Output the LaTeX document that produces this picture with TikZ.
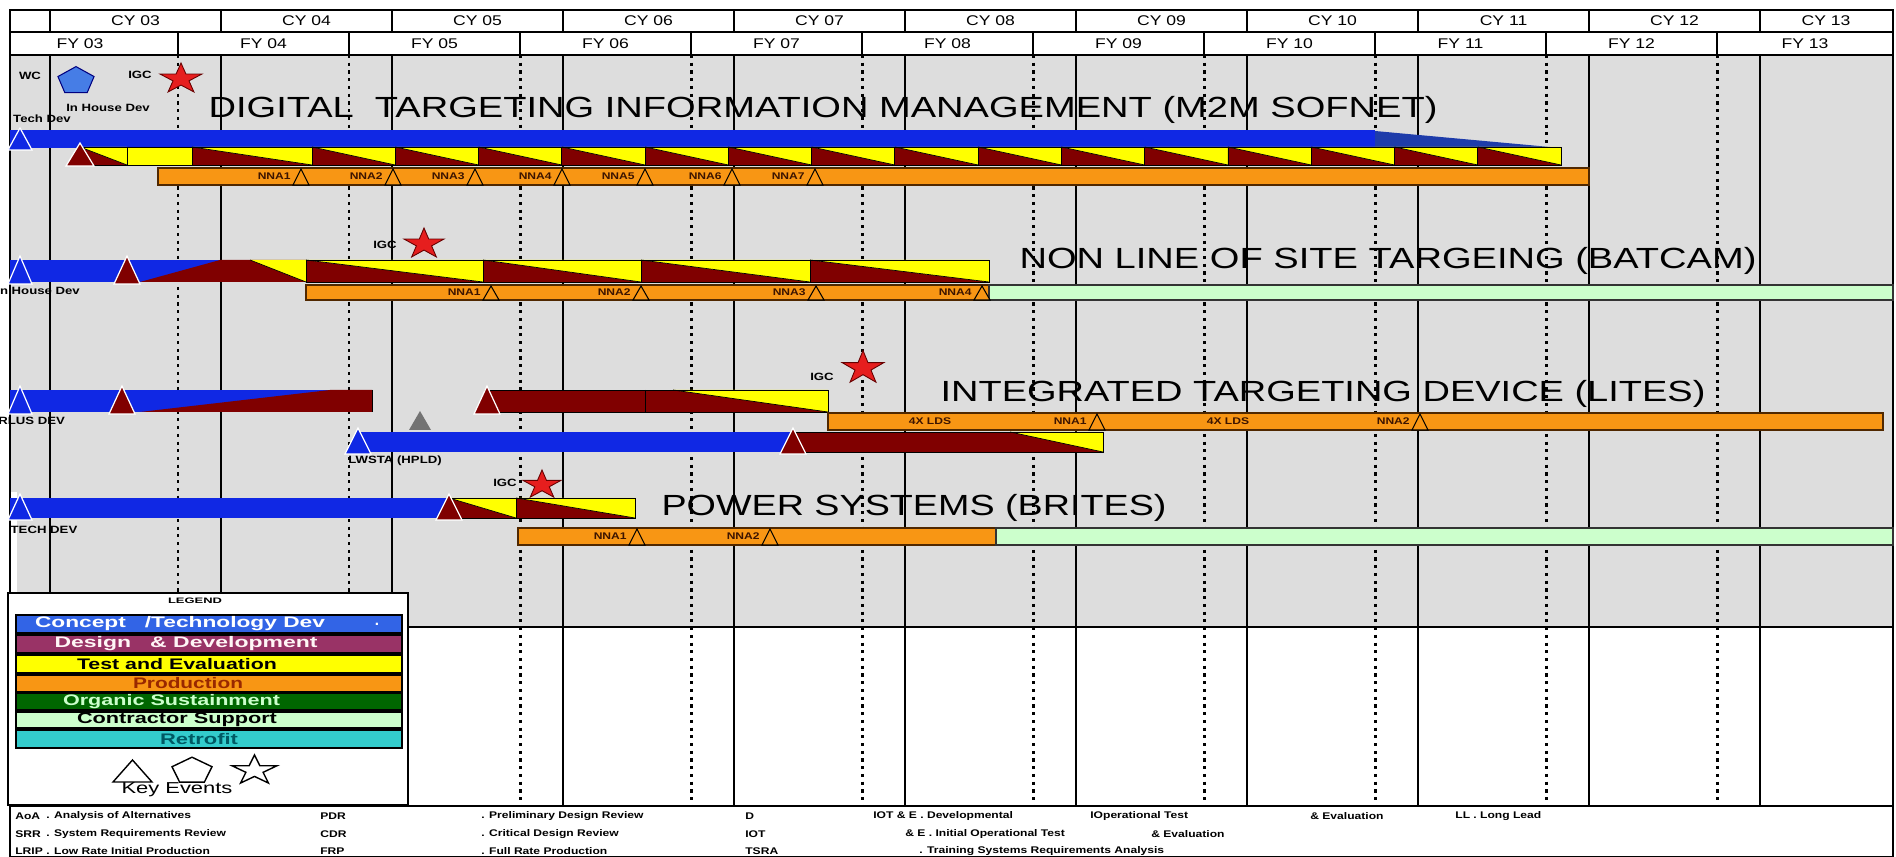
\documentclass[tikz,border=0pt]{standalone}
\usepackage{fontspec}
\setmainfont{Liberation Sans}
\usepackage{graphicx}
\definecolor{bggray}{RGB}{221,221,221}
\definecolor{bluec}{RGB}{16,40,228}
\definecolor{dbluec}{RGB}{30,60,170}
\definecolor{maroonc}{RGB}{128,0,0}
\definecolor{yellowc}{RGB}{255,255,0}
\definecolor{orangec}{RGB}{248,150,20}
\definecolor{obord}{RGB}{80,40,0}
\definecolor{obtext}{RGB}{60,20,0}
\definecolor{lgreenc}{RGB}{204,255,204}
\definecolor{starc}{RGB}{230,30,30}
\definecolor{pentc}{RGB}{70,125,230}
\definecolor{lgblue}{RGB}{50,100,230}
\definecolor{lgdesign}{RGB}{153,51,102}
\definecolor{lgorganic}{RGB}{0,102,0}
\definecolor{lgretro}{RGB}{51,204,204}
\definecolor{lgprodtext}{RGB}{153,40,0}
\definecolor{lgretrotext}{RGB}{0,90,100}
\newcommand\hsx[1]{\scalebox{1.25}[1]{#1}}
\newcommand\fitw[2]{\resizebox{#1}{\height}{#2}}
\newcommand\mtri[5]{\path[#5] ({#1-#4},{#3}) -- ({#1},{#2}) -- ({#1+#4},{#3}) -- cycle;}
\newcommand\wdg[4]{%
  \fill[maroonc] ({#1},{#3}) -- ({#1},{#4}) -- ({#2},{#4}) -- cycle;
  \fill[yellowc] ({#1},{#3}) -- ({#2},{#3}) -- ({#2},{#4}) -- cycle;
  \draw[barline] ({#1},{#3}) rectangle ({#2},{#4});
  \draw[diagline] ({#1},{#3}) -- ({#2},{#4});}
\newcommand\kstar[5]{\path[#5,shift={(#1,#2)},xscale=#3,yscale=#4] (-90:1) -- (-54:0.382) -- (-18:1) -- (18:0.382) -- (54:1) -- (90:0.382) -- (126:1) -- (162:0.382) -- (198:1) -- (234:0.382) -- cycle;}
\newcommand\kpent[5]{\path[#5,shift={(#1,#2)},xscale=#3,yscale=#4] (-90:1) -- (-18:1) -- (54:1) -- (126:1) -- (198:1) -- cycle;}
\newcommand\omark[5]{% x ytop ybot label name
  \mtri{#1}{#2+1}{#3}{8}{omile}
  \node[olbl] (#5) at ({#1-10},{(#2+#3)/2}) {\hsx{#4}};}
\tikzset{
 gridl/.style={line width=1.1pt, black},
 dotl/.style={line width=1.7pt, black, dash pattern=on 1.8pt off 2.6pt},
 hdrl/.style={line width=0.9pt, black},
 barline/.style={line width=0.5pt, black},
 diagline/.style={line width=0.4pt, black},
 msblue/.style={fill=bluec, draw=white, line width=0.7pt},
 msmar/.style={fill=maroonc, draw=white, line width=0.7pt},
 omile/.style={fill=orangec, draw=black, line width=0.6pt},
 obar/.style={fill=orangec, draw=obord, line width=0.8pt},
 gbar/.style={fill=lgreenc, draw=black!80, line width=0.8pt},
 lbl/.style={font=\bfseries\fontsize{6}{7}\selectfont, inner sep=0pt},
 olbl/.style={font=\bfseries\fontsize{5.5}{6}\selectfont, inner sep=0pt, text=obtext, anchor=east},
 ttl/.style={font=\fontsize{16.6}{18}\selectfont, inner sep=0pt},
 hdrt/.style={font=\fontsize{8}{9}\selectfont, inner sep=0pt},
 legt/.style={font=\bfseries\fontsize{8.7}{10}\selectfont, inner sep=0pt},
 foot/.style={font=\bfseries\fontsize{5.5}{6}\selectfont, inner sep=0pt, anchor=west},
 starred/.style={fill=starc, draw=black!60!red, line width=0.5pt},
 keyshape/.style={draw=black, fill=white, line width=0.8pt},
 legbar/.style={draw=black, line width=0.9pt},
}
\begin{document}
\begin{tikzpicture}[x=0.02cm,y=-0.02cm]
\useasboundingbox (0,0) rectangle (1896,857);
\fill[white] (0,0) rectangle (1896,857);
% body background
\fill[bggray] (10,55) rectangle (1893,627);
\draw[line width=0.6pt] (10,627) -- (1893,627);
\fill[white] (10,492) rectangle (17,592);
% grid lines
\foreach \k in {0,...,10}{\pgfmathsetmacro\xx{50+171*\k}\draw[gridl] (\xx,55) -- (\xx,806);}
\foreach \k in {1,...,10}{\pgfmathsetmacro\xx{50+171*\k-43}\draw[dotl] (\xx,55) -- (\xx,806);}
\draw[gridl] (10,55) -- (10,806);
\draw[gridl] (1893,55) -- (1893,806);
% header
\draw[hdrl] (10,10) rectangle (1893,55);
\draw[hdrl] (10,32) -- (1893,32);
\foreach \k in {0,...,10}{\pgfmathsetmacro\xx{50+171*\k}\draw[hdrl] (\xx,10) -- (\xx,32);}
\foreach \k in {1,...,10}{\pgfmathsetmacro\xx{50+171*\k-43}\draw[hdrl] (\xx,32) -- (\xx,55);}
\foreach \k/\t in {0/03,1/04,2/05,3/06,4/07,5/08,6/09,7/10,8/11,9/12}{\pgfmathsetmacro\xx{50+171*\k+85.5}\node[hdrt] (cy\t) at (\xx,21) {\hsx{CY \t}};}
\node[hdrt] (cy13) at (1826,21) {\hsx{CY 13}};
\node[hdrt] (fy03) at (80,44) {\hsx{FY 03}};
\foreach \k/\t in {1/04,2/05,3/06,4/07,5/08,6/09,7/10,8/11,9/12}{\pgfmathsetmacro\xx{50+171*\k-43+85.5}\node[hdrt] (fy\t) at (\xx,44) {\hsx{FY \t}};}
\node[hdrt] (fy13) at (1805,44) {\hsx{FY 13}};

% ===== Row 1 =====
\node[ttl] (t1) at (823,110) {\fitw{24.58cm}{DIGITAL\ \ TARGETING INFORMATION MANAGEMENT (M2M SOFNET)}};
\fill[bluec] (10,130) rectangle (1375,148);
\fill[dbluec] (1375,131) -- (1561,148) -- (1375,148) -- cycle;
\mtri{20}{128}{150}{12}{msblue}
\wdg{80}{127}{147}{165}
\fill[yellowc] (127,147) rectangle (192,165);
\draw[barline] (127,147) rectangle (192,165);
\wdg{192}{312}{147}{165}
\foreach \i in {0,...,14}{\pgfmathsetmacro\wl{312+83.27*\i}\pgfmathsetmacro\wr{\wl+83.27}\wdg{\wl}{\wr}{147}{165}}
\mtri{80}{143}{166}{14}{msmar}
\draw[obar] (158,168) rectangle (1589,185);
\omark{301}{168}{185}{NNA1}{a1}
\omark{393}{168}{185}{NNA2}{a2}
\omark{475}{168}{185}{NNA3}{a3}
\omark{562}{168}{185}{NNA4}{a4}
\omark{645}{168}{185}{NNA5}{a5}
\omark{732}{168}{185}{NNA6}{a6}
\omark{815}{168}{185}{NNA7}{a7}
\node[lbl] (wc) at (30,76) {\hsx{WC}};
\kpent{76}{81}{19}{14.4}{fill=pentc, draw=blue!50!black, line width=0.6pt}
\node[lbl] (igc1) at (140,75) {\hsx{IGC}};
\kstar{181}{79}{22}{16}{starred}
\node[lbl] (ihd1) at (108,108) {\hsx{In House Dev}};
\node[lbl] (td1) at (42,119) {\hsx{Tech Dev}};

% ===== Row 2 =====
\node[ttl] (t2) at (1388,261) {\fitw{14.74cm}{NON LINE OF SITE TARGEING (BATCAM)}};
\fill[bluec] (10,260) rectangle (220,282);
\fill[maroonc] (140,282) -- (220,260) -- (306,260) -- (306,282) -- cycle;
\fill[yellowc] (250,260) -- (306,260) -- (306,282) -- cycle;
\draw[diagline] (250,260) -- (306,282);
\mtri{20}{256}{284}{12}{msblue}
\mtri{127}{256}{284}{13}{msmar}
\wdg{306}{483}{260}{282}
\wdg{483}{641}{260}{282}
\wdg{641}{810}{260}{282}
\wdg{810}{989}{260}{282}
\draw[obar] (306,285) rectangle (989,300);
\draw[gbar] (989,285) rectangle (1893,300);
\omark{491}{285}{300}{NNA1}{b1}
\omark{641}{285}{300}{NNA2}{b2}
\omark{816}{285}{300}{NNA3}{b3}
\omark{982}{285}{300}{NNA4}{b4}
\node[lbl] (igc2) at (385,245) {\hsx{IGC}};
\kstar{424}{244}{21}{16}{starred}
\node[lbl, anchor=west] (ihd2) at (-4,291) {\hsx{In House Dev}};

% ===== Row 3 =====
\node[ttl] (t3) at (1323,394) {\fitw{15.30cm}{INTEGRATED TARGETING DEVICE (LITES)}};
\fill[bluec] (10,390) rectangle (372,412);
\fill[maroonc] (140,412) -- (330,390) -- (372,390) -- (372,412) -- cycle;
\draw[barline] (372,390) -- (372,412);
\mtri{20}{386}{414}{12}{msblue}
\mtri{122}{386}{414}{13}{msmar}
\mtri{420}{411}{430}{11}{fill=black!55}
\fill[maroonc] (484,390) rectangle (828,412);
\fill[yellowc] (673,390) -- (828,390) -- (828,412) -- cycle;
\draw[diagline] (673,390) -- (828,412);
\draw[barline] (645,390) -- (645,412);
\draw[barline] (484,390) rectangle (828,412);
\mtri{487}{386}{414}{13}{msmar}
\draw[obar] (828,413) rectangle (1883,430);
\node[olbl, anchor=center] (c0) at (930,421.5) {\hsx{4X LDS}};
\omark{1097}{413}{430}{NNA1}{c1}
\node[olbl, anchor=center] (c2) at (1228,421.5) {\hsx{4X LDS}};
\omark{1420}{413}{430}{NNA2}{c3}
\fill[bluec] (358,432) rectangle (793,452);
\fill[maroonc] (793,432) rectangle (1103,452);
\fill[yellowc] (1010,432) -- (1103,432) -- (1103,452) -- cycle;
\draw[diagline] (1010,432) -- (1103,452);
\draw[barline] (793,432) rectangle (1103,452);
\mtri{358}{428}{454}{13}{msblue}
\mtri{793}{428}{454}{13}{msmar}
\node[lbl] (igc3) at (822,377) {\hsx{IGC}};
\kstar{863}{368}{22}{17.5}{starred}
\node[lbl, anchor=west] (rd3) at (-2,421) {\hsx{RLUS DEV}};
\node[lbl] (hp3) at (395,461) {\hsx{LWSTA (HPLD)}};

% ===== Row 4 =====
\node[ttl] (t4) at (914,508) {\fitw{10.10cm}{POWER SYSTEMS (BRITES)}};
\fill[bluec] (10,498) rectangle (449,518);
\wdg{449}{516}{498}{518}
\wdg{516}{635}{498}{518}
\mtri{20}{494}{520}{12}{msblue}
\mtri{449}{494}{520}{13}{msmar}
\draw[obar] (518,528) rectangle (996,545);
\draw[gbar] (996,528) rectangle (1893,545);
\omark{637}{528}{545}{NNA1}{d1}
\omark{770}{528}{545}{NNA2}{d2}
\node[lbl] (igc4) at (505,483) {\hsx{IGC}};
\kstar{542}{485}{20}{15}{starred}
\node[lbl] (td4) at (44,530) {\hsx{TECH DEV}};

% ===== Legend =====
\draw[fill=white, line width=1pt] (8,593) rectangle (408,805);
\node[font=\bfseries\fontsize{4.5}{5}\selectfont, inner sep=0pt] (leg) at (195,601) {\fitw{1.08cm}{LEGEND}};
\draw[legbar, fill=lgblue] (16,615) rectangle (402,633);
\draw[legbar, fill=lgdesign] (16,635) rectangle (402,653);
\draw[legbar, fill=yellowc] (16,655) rectangle (402,673);
\draw[legbar, fill=orangec] (16,675) rectangle (402,692);
\draw[legbar, fill=lgorganic] (16,693) rectangle (402,710);
\draw[legbar, fill=lgreenc] (16,712) rectangle (402,728);
\draw[legbar, fill=lgretro] (16,730) rectangle (402,748);
\node[legt, text=white] (l1) at (180,624) {\fitw{5.8cm}{Concept\ \ \ /Technology Dev}};
\node[legt, text=white] (l1b) at (377,624) {.};
\node[legt, text=white!85!pink] (l2) at (186,644) {\fitw{5.26cm}{Design\ \ \ \& Development}};
\node[legt, text=black] (l3) at (177,664) {\fitw{4.0cm}{Test and Evaluation}};
\node[legt, text=lgprodtext] (l4) at (188,683.5) {\fitw{2.2cm}{Production}};
\node[legt, text=lgreenc] (l5) at (171.5,701.5) {\fitw{4.34cm}{Organic Sustainment}};
\node[legt, text=black] (l6) at (177,720) {\fitw{4.0cm}{Contractor Support}};
\node[legt, text=lgretrotext] (l7) at (199,739) {\fitw{1.56cm}{Retrofit}};
\mtri{132.5}{760}{782}{19.5}{keyshape}
\kpent{192}{771}{21}{13.8}{keyshape}
\kstar{254.5}{770.5}{23.7}{15.5}{keyshape}
\node[font=\fontsize{9}{10}\selectfont, inner sep=0pt] (ke) at (177,790) {\fitw{2.22cm}{Key Events}};

% ===== Footer =====
\draw[fill=white, line width=1pt] (10,806) rectangle (1893,856.5);
\node[foot] (f11) at (15,816) {\hsx{AoA}};
\node[foot] (f12) at (46,816) {\hsx{. Analysis of Alternatives}};
\node[foot] (f13) at (320,816) {\hsx{PDR}};
\node[foot] (f14) at (481,816) {\hsx{. Preliminary Design Review}};
\node[foot] (f15) at (745,816) {\hsx{D}};
\node[foot] (f16) at (873,816) {\hsx{IOT \& E . Developmental}};
\node[foot] (f17) at (1090,816) {\hsx{IOperational Test}};
\node[foot] (f18) at (1310,816) {\hsx{\& Evaluation}};
\node[foot] (f19) at (1455,816) {\hsx{LL . Long Lead}};
\node[foot] (f21) at (15,834) {\hsx{SRR}};
\node[foot] (f22) at (46,834) {\hsx{. System Requirements Review}};
\node[foot] (f23) at (320,834) {\hsx{CDR}};
\node[foot] (f24) at (481,834) {\hsx{. Critical Design Review}};
\node[foot] (f25) at (745,834) {\hsx{IOT}};
\node[foot] (f26) at (905,834) {\hsx{\& E . Initial Operational Test}};
\node[foot] (f27) at (1151,834) {\hsx{\& Evaluation}};
\node[foot] (f31) at (15,851) {\hsx{LRIP}};
\node[foot] (f32) at (46,851) {\hsx{. Low Rate Initial Production}};
\node[foot] (f33) at (320,851) {\hsx{FRP}};
\node[foot] (f34) at (481,851) {\hsx{. Full Rate Production}};
\node[foot] (f35) at (745,851) {\hsx{TSRA}};
\node[foot] (f36) at (919,851) {\hsx{. Training Systems Requirements Analysis}};
\end{tikzpicture}
\end{document}
